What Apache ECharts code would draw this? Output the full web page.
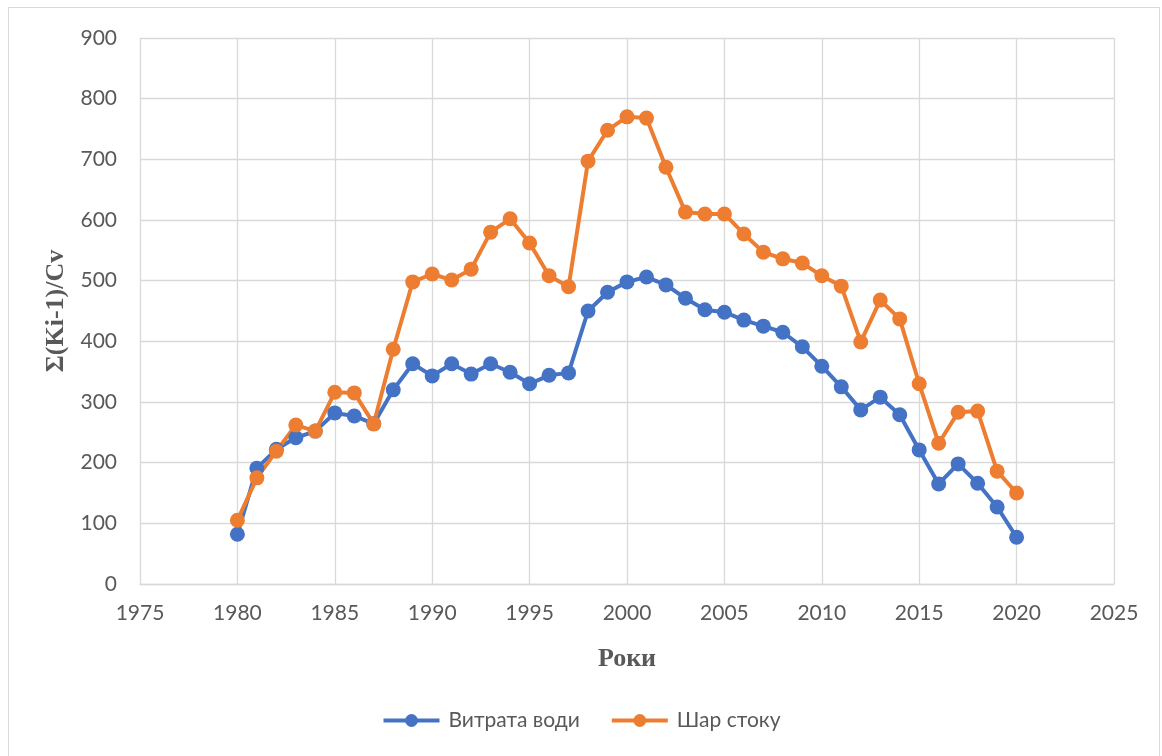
<!DOCTYPE html>
<html>
<head>
<meta charset="utf-8">
<script src="https://cdn.jsdelivr.net/npm/echarts@6/dist/echarts.min.js"></script>
<style>
  html, body { margin: 0; padding: 0; background: #fff; }
  #frame { position: absolute; left: 8px; top: 7px; width: 1152px; height: 760px; border: 1px solid #d9d9d9; box-sizing: border-box; }
  #chart { position: absolute; left: 0; top: 0; width: 1162px; height: 756px; }
</style>
</head>
<body>
<div id="frame"></div>
<div id="chart"></div>
<script>
const years = []
for (let y = 1980; y <= 2020; y++) years.push(y)

// Витрата води
const vytrata = [82, 191, 222, 241, 252, 282, 277, 264, 320, 363,
  343, 363, 346, 363, 349, 330, 344, 348, 450, 481,
  498, 506, 493, 471, 452, 448, 435, 425, 415, 391,
  359, 325, 287, 308, 279, 221, 165, 198, 166, 127, 77]

// Шар стоку
const shar = [105, 175, 219, 262, 252, 316, 315, 264, 387, 498,
  511, 501, 519, 580, 602, 562, 508, 490, 697, 748,
  770, 768, 687, 613, 610, 610, 577, 547, 536, 529,
  508, 491, 399, 468, 437, 330, 232, 283, 285, 186, 150]

const xTicks = { min: 1975, max: 2025, step: 5 }
const yTicks = { min: 0, max: 900, step: 100 }

const pair = (vals) => years.map((y, i) => [y, vals[i]])

const chart = echarts.init(document.getElementById('chart'))
const labelFont = { fontFamily: 'Lato', fontSize: 21, color: '#595959' }
const gridLine = { show: true, lineStyle: { color: '#d9d9d9', width: 1.3 } }
const nameFont = { fontFamily: 'Liberation Serif', fontWeight: 'bold', fontSize: 26, color: '#595959' }

chart.setOption({
  animation: false,
  grid: { left: 140, right: 48, top: 38, bottom: 172 },
  legend: {
    bottom: 20,
    itemWidth: 56,
    itemHeight: 16,
    itemGap: 30,
    lineStyle: { width: 4 },
    textStyle: { ...labelFont, fontSize: 21, padding: [0, 0, 0, 4] },
    data: ['Витрата води', 'Шар стоку']
  },
  xAxis: {
    type: 'value',
    min: xTicks.min, max: xTicks.max, interval: xTicks.step,
    name: 'Роки',
    nameLocation: 'middle',
    nameGap: 62,
    nameTextStyle: nameFont,
    axisLine: { show: true, lineStyle: { color: '#d9d9d9', width: 1.3 } },
    axisTick: { show: false },
    axisLabel: { ...labelFont, margin: 19, formatter: v => String(v) },
    splitLine: gridLine
  },
  yAxis: {
    type: 'value',
    min: yTicks.min, max: yTicks.max, interval: yTicks.step,
    name: 'Σ(Ki-1)/Cv',
    nameLocation: 'middle',
    nameGap: 70,
    nameTextStyle: nameFont,
    axisLine: { show: false },
    axisTick: { show: false },
    axisLabel: { ...labelFont, margin: 23 },
    splitLine: gridLine
  },
  series: [
    {
      name: 'Витрата води',
      type: 'line',
      data: pair(vytrata),
      symbol: 'circle',
      symbolSize: 15,
      color: '#4472C4',
      lineStyle: { width: 4, color: '#4472C4' },
      itemStyle: { color: '#4472C4' }
    },
    {
      name: 'Шар стоку',
      type: 'line',
      data: pair(shar),
      symbol: 'circle',
      symbolSize: 15,
      color: '#ED7D31',
      lineStyle: { width: 4, color: '#ED7D31' },
      itemStyle: { color: '#ED7D31' }
    }
  ]
})
</script>
</body>
</html>
